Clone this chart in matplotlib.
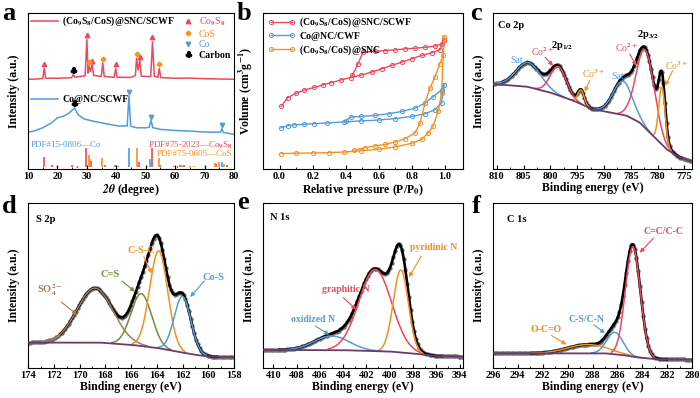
import matplotlib.pyplot as plt
import numpy as np
from matplotlib.font_manager import FontProperties
from matplotlib.path import Path
from matplotlib.textpath import TextPath

plt.rcParams['font.family'] = ['Liberation Serif', 'DejaVu Serif']
plt.rcParams['font.weight'] = 'bold'
plt.rcParams['axes.labelweight'] = 'bold'
plt.rcParams['mathtext.fontset'] = 'stix'
plt.rcParams['axes.linewidth'] = 0.8

RED = '#f0475a'
BLUE = '#4f9ddc'
ORANGE = '#f7901e'
PURPLE = '#6c3b6c'
BROWN = '#a57c5a'
GREEN = '#6f8f3c'
DOT = '#6e6e6e'

# ---- (a) XRD ----
xrd_red_x = [10, 13, 15.0, 15.5, 16.0, 20, 24.8, 25.4, 26.0, 29.4, 30.0, 30.4, 30.8, 31.2,
             31.8, 32.3, 34.9, 35.4, 35.9, 39.3, 39.8, 40.3, 45, 46.5, 46.9, 47.4, 48.0, 48.5,
             51.7, 52.3, 52.9, 54.1, 54.6, 55.1, 60, 65, 70, 75, 80]
xrd_red_y = [57.5, 57.7, 58.0, 64.5, 58.2, 58.2, 58.5, 60.5, 58.8, 59.8, 83.0, 61.5, 66.0, 62.5,
             67.0, 60.0, 59.3, 68.0, 59.3, 58.8, 64.5, 58.8, 58.7, 60.0, 71.0, 63.5, 69.5, 59.5,
             59.2, 81.5, 59.5, 58.7, 64.5, 58.6, 58.2, 58.3, 57.9, 57.7, 57.5]
xrd_blue_x = [10, 12, 15, 18, 20, 22, 24, 25.8, 27, 29, 32, 35, 38, 41, 43.7, 44.3, 44.9, 47,
              50, 51.2, 51.8, 52.4, 55, 60, 65, 70, 75.4, 75.9, 76.4, 80]
xrd_blue_y = [23.7, 24.3, 26.4, 29.6, 32.8, 33.8, 35.9, 39.1, 34.9, 32.1, 30.7, 29.6, 28.5, 27.5,
              27.6, 47.0, 27.4, 26.4, 26.4, 26.8, 31.3, 26.5, 25.4, 24.7, 24.3, 23.7, 23.6, 25.8,
              23.4, 22.2]

co9s8_bar_x = [15.5, 18.0, 25.0, 29.8, 31.3, 36.0, 39.5, 40.5, 47.6, 52.1, 55.0, 59.5, 61.8, 63.0, 74.0, 77.5]
co9s8_bar_h = [7.4, 2.7, 2.5, 13.7, 5.3, 2.7, 2.7, 2.1, 4.2, 13.3, 2.7, 2.1, 2.7, 2.5, 3.2, 2.7]
cos_bar_x = [30.6, 31.0, 35.3, 46.9, 54.4, 62.5, 65.0, 66.5, 73.5, 75.0, 76.5]
cos_bar_h = [8.9, 6.3, 7.0, 13.7, 6.8, 2.5, 2.1, 2.1, 3.6, 4.2, 3.2]
co_bar_x = [44.2, 51.5, 75.8]
co_bar_h = [13.7, 6.3, 4.2]
carbon_bar_x = [20.0, 26.5, 50.0, 60.5, 70.0]
carbon_bar_h = [2.1, 1.8, 2.1, 1.8, 2.1]

co9s8_mk_x = [15.5, 30.0, 31.8, 39.8, 48.0, 52.3]
co9s8_mk_y = [67.0, 86.0, 69.5, 67.0, 72.0, 84.5]
cos_mk_x = [30.8, 35.4, 46.9, 54.6]
cos_mk_y = [68.5, 70.5, 73.5, 67.0]
co_mk_x = [44.3, 51.8, 75.9]
co_mk_y = [49.5, 33.5, 28.0]
carbon_mk_x = [25.4, 25.8]
carbon_mk_y = [63.5, 42.0]

# ---- (b) N2 isotherms ----
red_ads_x = [0.01, 0.05, 0.10, 0.15, 0.21, 0.26, 0.31, 0.37, 0.43, 0.49, 0.56, 0.62, 0.68, 0.74, 0.80, 0.86, 0.92, 0.97, 0.995]
red_ads_y = [40.1, 45.8, 48.5, 50.6, 52.3, 53.8, 55.3, 57.0, 58.6, 60.1, 62.2, 64.3, 66.5, 68.5, 70.7, 72.8, 74.5, 76.4, 82.7]
red_des_x = [0.995, 0.98, 0.94, 0.88, 0.82, 0.76, 0.70, 0.64, 0.58, 0.505, 0.475, 0.44]
red_des_y = [82.7, 80.2, 78.7, 78.0, 77.4, 77.0, 76.4, 75.9, 75.5, 74.9, 67.5, 60.0]
blue_ads_x = [0.01, 0.05, 0.09, 0.15, 0.21, 0.29, 0.39, 0.49, 0.60, 0.70, 0.80, 0.88, 0.94, 0.98, 0.995]
blue_ads_y = [26.4, 27.8, 28.3, 28.7, 29.1, 29.5, 30.2, 30.8, 31.4, 32.3, 33.7, 35.4, 38.0, 42.2, 53.8]
blue_des_x = [0.995, 0.98, 0.93, 0.88, 0.82, 0.74, 0.66, 0.58, 0.49, 0.43, 0.40]
blue_des_y = [53.8, 50.6, 46.4, 42.2, 39.0, 36.9, 35.4, 34.4, 33.7, 33.3, 31.0]
or_ads_x = [0.01, 0.10, 0.20, 0.30, 0.39, 0.49, 0.60, 0.70, 0.80, 0.86, 0.90, 0.93, 0.96, 0.98, 0.995]
or_ads_y = [9.9, 10.1, 10.3, 10.5, 10.9, 11.6, 12.7, 14.1, 16.5, 19.0, 23.2, 27.8, 36.9, 48.5, 84.4]
or_des_x = [0.995, 0.99, 0.97, 0.94, 0.91, 0.88, 0.85, 0.82, 0.76, 0.70, 0.64, 0.58, 0.52, 0.45]
or_des_y = [84.4, 72.8, 67.5, 59.0, 51.7, 42.2, 29.5, 23.2, 19.4, 17.3, 15.8, 14.8, 13.7, 12.0]

# ---- (c) Co 2p ----
c_bg_x = [810.7, 804.4, 800.1, 795.7, 792.3, 788.9, 785.8, 783.4, 780.9, 778.4, 775.9, 773.6]
c_bg_y = [54.5, 52.8, 49.1, 43.8, 38.5, 36.3, 34.2, 29.9, 21.4, 12.8, 7.5, 4.9]
c_center = [804.1, 798.5, 794.3, 786.5, 782.3, 779.2]
c_height = [15.6, 18.4, 9.0, 21.6, 50.0, 37.0]
c_sigma = [2.3, 1.5, 0.6, 1.8, 1.7, 0.6]
c_color = [BLUE, RED, ORANGE, BLUE, RED, ORANGE]

# ---- (d) S 2p ----
d_bg_x = [174, 168.4, 165.8, 164.0, 162.2, 160.6, 159.6, 158]
d_bg_y = [15.4, 15.4, 13.9, 12.2, 9.6, 7.5, 6.8, 6.6]
d_center = [168.8, 165.2, 163.85, 162.0]
d_height = [33.0, 31.7, 59.0, 34.0]
d_sigma = [1.4, 0.8, 0.7, 0.65]
d_color = [BROWN, GREEN, ORANGE, BLUE]

# ---- (e) N 1s ----
e_bg_x = [410.9, 404, 400, 398, 396, 393.7]
e_bg_y = [11.0, 10.8, 10.0, 8.8, 7.3, 6.9]
e_center = [405.0, 401.25, 399.05]
e_height = [8.6, 49.5, 50.0]
e_sigma = [1.5, 1.4, 0.65]
e_color = [BLUE, RED, ORANGE]

# ---- (f) C 1s ----
f_bg_x = [296, 287, 285.5, 284.5, 283, 280]
f_bg_y = [8.9, 8.9, 7.8, 6.5, 5.4, 5.1]
f_center = [288.4, 286.2, 284.75]
f_height = [5.3, 13.3, 66.6]
f_sigma = [1.6, 0.65, 0.6]
f_color = [ORANGE, BLUE, RED]


def style(ax, xlim, major, minor, xlabel, ylabel):
    ax.set_xlim(*xlim)
    ax.set_ylim(0, 100)
    ax.set_xticks(major)
    ax.set_xticks(minor, minor=True)
    ax.set_yticks([])
    ax.tick_params(axis='x', which='both', direction='in', labelsize=7.5, pad=2)
    ax.tick_params(axis='x', which='major', length=3, width=0.8)
    ax.tick_params(axis='x', which='minor', length=1.5, width=0.6)
    for lab in ax.get_xticklabels():
        lab.set_fontweight('bold')
    ax.set_xlabel(xlabel, fontsize=8.5, labelpad=1)
    ax.set_ylabel(ylabel, fontsize=8.5, labelpad=6)


def arrow(ax, tail, tip, color):
    ax.annotate('', xy=tip, xytext=tail,
                arrowprops=dict(arrowstyle='-|>', color=color, lw=0.8,
                                mutation_scale=6, shrinkA=0, shrinkB=0))


def xps(ax, x, bg_x, bg_y, centers, heights, sigmas, colors, env, step):
    order = np.argsort(bg_x)
    bg = np.interp(x, np.array(bg_x)[order], np.array(bg_y)[order])
    comps = [h * np.exp(-(x - c) ** 2 / (2 * s ** 2))
             for c, h, s in zip(centers, heights, sigmas)]
    total = bg + np.sum(comps, axis=0)
    ax.plot(x[::step], total[::step], 'o', ms=2.1, color=DOT, zorder=1)
    m = (x >= min(env)) & (x <= max(env))
    ax.plot(x[m], total[m], color='black', lw=1.9, zorder=2)
    for g, h, col in zip(comps, heights, colors):
        k = g > 0.015 * h
        ax.plot(x[k], bg[k] + g[k], color=col, lw=1.1, zorder=3)
    ax.plot(x, bg, color=PURPLE, lw=1.3, zorder=4)


# club-shaped marker for carbon
club = TextPath((0, 0), '\u2663', prop=FontProperties(family='DejaVu Sans'))
cv = club.vertices
club = Path(cv - (cv.min(axis=0) + cv.max(axis=0)) / 2, club.codes)

fig = plt.figure(figsize=(7, 3.98), dpi=100)
cols = [(28, 206), (263, 200), (493, 199)]
rows = [(13, 169), (203, 368)]
axs = []
for top, bot in rows:
    for left, w in cols:
        axs.append(fig.add_axes([left / 700, 1 - bot / 398, w / 700, (bot - top) / 398]))
ax_a, ax_b, ax_c, ax_d, ax_e, ax_f = axs

# (a)
la, = ax_a.plot(xrd_red_x, xrd_red_y, color=RED, lw=1.1, label='(Co$_9$S$_8$/CoS)@SNC/SCWF')
lb, = ax_a.plot(xrd_blue_x, xrd_blue_y, color=BLUE, lw=1.1, label='Co@NC/SCWF')
ax_a.vlines(co9s8_bar_x, 1, co9s8_bar_h, color=RED, lw=1.2)
ax_a.vlines(cos_bar_x, 1, cos_bar_h, color=ORANGE, lw=1.2)
ax_a.vlines(co_bar_x, 1, co_bar_h, color=BLUE, lw=1.2)
ax_a.vlines(carbon_bar_x, 1, carbon_bar_h, color='black', lw=1.0)
m1, = ax_a.plot(co9s8_mk_x, co9s8_mk_y, marker='^', color=RED, ms=3.2, ls='none', label='Co$_9$S$_8$')
m2, = ax_a.plot(cos_mk_x, cos_mk_y, marker='D', color=ORANGE, ms=2.4, ls='none', label='CoS')
m3, = ax_a.plot(co_mk_x, co_mk_y, marker='v', color=BLUE, ms=3.2, ls='none', label='Co')
m4, = ax_a.plot(carbon_mk_x, carbon_mk_y, marker=club, color='black', ms=4.5, ls='none',
                label='Carbon')
leg1 = ax_a.legend(handles=[la], loc='upper left', bbox_to_anchor=(0.005, 1.0), frameon=False,
                   fontsize=7, handlelength=2.8, handletextpad=0.4, borderpad=0.2, borderaxespad=0)
ax_a.add_artist(leg1)
leg2 = ax_a.legend(handles=[lb], loc='center left', bbox_to_anchor=(0.005, 0.444), frameon=False,
                   fontsize=7, handlelength=2.8, handletextpad=0.4, borderpad=0.2, borderaxespad=0)
ax_a.add_artist(leg2)
leg3 = ax_a.legend(handles=[m1, m2, m3, m4], loc='upper right', bbox_to_anchor=(1.0, 1.0),
                   frameon=False, fontsize=7, handlelength=1.0, handletextpad=0.6,
                   labelspacing=0.15, borderpad=0.3, borderaxespad=0)
for t, c in zip(leg3.get_texts(), [RED, ORANGE, BLUE, 'black']):
    t.set_color(c)
    if c != 'black':
        t.set_fontweight('normal')
ax_a.text(11.0, 15.5, 'PDF#15-0806—Co', color=BLUE, fontsize=6.5, fontweight='normal', va='center')
ax_a.text(79.5, 15.5, 'PDF#75-2023—Co$_9$S$_8$', color=RED, fontsize=6.5, fontweight='normal',
          va='center', ha='right')
ax_a.text(79.5, 9.5, 'PDF#75-0605—CoS', color=ORANGE, fontsize=6.5, fontweight='normal',
          va='center', ha='right')
style(ax_a, (10, 80), np.arange(10, 81, 10), np.arange(15, 80, 10),
      r'$\mathbfit{2\theta}$ (degree)', 'Intensity (a.u.)')

# (b)
mk = dict(marker='o', ms=3, mfc='none', mew=0.7, lw=1.0)
h1, = ax_b.plot(red_ads_x, red_ads_y, color=RED, label='(Co$_9$S$_8$/CoS)@SNC/SCWF', **mk)
ax_b.plot(red_des_x, red_des_y, color=RED, **mk)
h2, = ax_b.plot(blue_ads_x, blue_ads_y, color=BLUE, label='Co@NC/CWF', **mk)
ax_b.plot(blue_des_x, blue_des_y, color=BLUE, **mk)
h3, = ax_b.plot(or_ads_x, or_ads_y, color=ORANGE, label='(Co$_9$S$_8$/CoS)@SNC', **mk)
ax_b.plot(or_des_x, or_des_y, color=ORANGE, **mk)
ax_b.legend(handles=[h1, h2, h3], loc='upper left', bbox_to_anchor=(0.01, 1.0), frameon=False,
            fontsize=7, handlelength=2.8, handletextpad=0.4, labelspacing=0.25, numpoints=2,
            borderpad=0.3, borderaxespad=0)
style(ax_b, (-0.1, 1.11), np.arange(0, 1.01, 0.2), np.arange(0.1, 1.0, 0.2),
      'Relative pressure (P/P$_0$)', 'Volume (cm$^3$g$^{-1}$)')

# (c)
xc = np.linspace(810.7, 773.6, 900)
xps(ax_c, xc, c_bg_x, c_bg_y, c_center, c_height, c_sigma, c_color, (809.0, 775.5), 7)
ax_c.text(809.7, 92, 'Co 2p', fontsize=7.5, va='center')
ax_c.text(797.9, 79, '2p$_{1/2}$', fontsize=7.5, ha='center', va='center')
ax_c.text(781.8, 86.5, '2p$_{3/2}$', fontsize=7.5, ha='center', va='center')
for (tx, ty, s, col) in [(806.0, 69.4, 'Sat.', BLUE), (787.2, 59.2, 'Sat.', BLUE),
                         (801.5, 75.4, 'Co$^{2+}$', RED), (785.8, 77.6, 'Co$^{2+}$', RED),
                         (792.0, 60.9, 'Co$^{3+}$', ORANGE), (776.5, 66.2, 'Co$^{3+}$', ORANGE)]:
    ax_c.text(tx, ty, s, color=col, fontsize=7, fontweight='normal', ha='center', va='center')
arrow(ax_c, (801.0, 71.6), (799.5, 66.2), RED)
arrow(ax_c, (792.7, 56.6), (793.6, 49.6), ORANGE)
arrow(ax_c, (785.2, 73.7), (784.0, 66.2), RED)
arrow(ax_c, (777.2, 63.0), (778.6, 53.4), ORANGE)
style(ax_c, (810.7, 773.6), np.arange(810, 774, -5), np.arange(807.5, 774, -5),
      'Binding energy (eV)', 'Intensity (a.u.)')

# (d)
xd = np.linspace(174, 158, 700)
xps(ax_d, xd, d_bg_x, d_bg_y, d_center, d_height, d_sigma, d_color, (171.5, 159.3), 6)
ax_d.text(173.35, 90, 'S 2p', fontsize=7.5, va='center')
ax_d.text(172.3, 47.3, 'SO$_4^{2-}$', color=BROWN, fontsize=7.5, ha='center', va='center')
ax_d.text(167.6, 56.5, 'C=S', color=GREEN, fontsize=7.5, ha='center', va='center')
ax_d.text(165.2, 71.5, 'C-S-C', color=ORANGE, fontsize=7.5, ha='center', va='center')
ax_d.text(159.6, 54.8, 'Co-S', color=BLUE, fontsize=7.5, ha='center', va='center')
arrow(ax_d, (171.4, 39.9), (170.2, 32.4), BROWN)
arrow(ax_d, (166.7, 52.7), (165.7, 46.3), GREEN)
arrow(ax_d, (165.0, 67.5), (164.4, 57.4), ORANGE)
arrow(ax_d, (160.3, 52.7), (161.4, 43.1), BLUE)
style(ax_d, (174, 158), np.arange(174, 157, -2), np.arange(173, 158, -2),
      'Binding energy (eV)', 'Intensity (a.u.)')

# (e)
xe = np.linspace(410.9, 393.7, 700)
xps(ax_e, xe, e_bg_x, e_bg_y, e_center, e_height, e_sigma, e_color, (409.5, 395.5), 6)
ax_e.text(410.3, 91, 'N 1s', fontsize=7.5, va='center')
ax_e.text(406.6, 29.2, 'oxidized N', color=BLUE, fontsize=7, ha='center', va='center')
ax_e.text(403.8, 47.3, 'graphitic N', color=RED, fontsize=7, ha='center', va='center')
ax_e.text(396.2, 72.9, 'pyridinic N', color=ORANGE, fontsize=7, ha='center', va='center')
arrow(ax_e, (406.4, 25.4), (405.2, 20.2), BLUE)
arrow(ax_e, (404.0, 42.7), (402.9, 35.4), RED)
arrow(ax_e, (397.3, 67.7), (398.35, 55.0), ORANGE)
style(ax_e, (410.9, 393.7), np.arange(410, 393, -2), np.arange(409, 394, -2),
      'Binding energy (eV)', 'Intensity (a.u.)')

# (f)
xf = np.linspace(296, 280, 700)
xps(ax_f, xf, f_bg_x, f_bg_y, f_center, f_height, f_sigma, f_color, (293.0, 282.0), 6)
ax_f.text(294.9, 90, 'C 1s', fontsize=7.5, va='center')
ax_f.text(282.3, 82.7, 'C=C/C-C', color=RED, fontsize=7, ha='center', va='center')
ax_f.text(288.5, 29.3, 'C-S/C-N', color=BLUE, fontsize=7, ha='center', va='center')
ax_f.text(291.7, 23.2, 'O-C=O', color=ORANGE, fontsize=7, ha='center', va='center')
arrow(ax_f, (283.1, 78.7), (284.2, 69.9), RED)
arrow(ax_f, (287.9, 26.2), (287.0, 21.1), BLUE)
arrow(ax_f, (291.3, 19.7), (290.1, 14.2), ORANGE)
style(ax_f, (296, 280), np.arange(296, 279, -2), np.arange(295, 280, -2),
      'Binding energy (eV)', 'Intensity (a.u.)')

for s, px, py in [('a', 2, 20), ('b', 237, 20), ('c', 470, 20),
                  ('d', 2, 213), ('e', 237, 209), ('f', 472, 213)]:
    fig.text(px / 700, 1 - py / 398, s, fontsize=19, va='baseline')

fig.savefig('out.png', dpi=100)
